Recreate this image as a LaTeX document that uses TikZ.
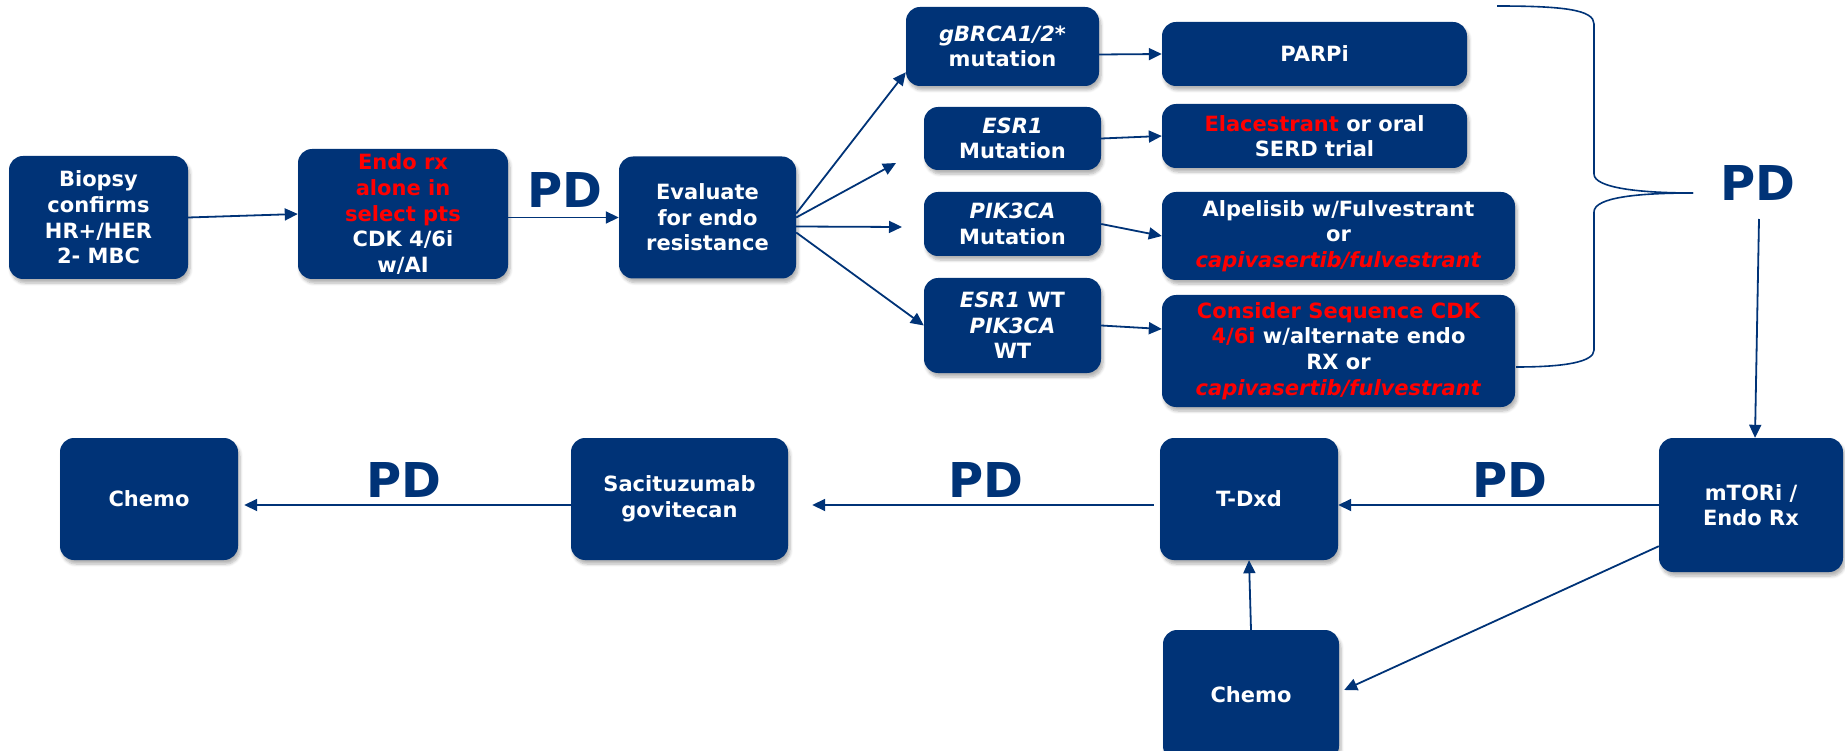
\documentclass[tikz,border=0pt]{standalone}
\usepackage{fontspec}
\setmainfont{DejaVu Sans}
\usetikzlibrary{arrows.meta,shadows.blur,calc}
\definecolor{navy}{RGB}{0,51,119}
\definecolor{hired}{RGB}{255,0,0}
\newcommand{\rd}[1]{\textcolor{hired}{#1}}
\begin{document}
\begin{tikzpicture}[x=1pt,y=-1pt,
  box/.style={fill=navy, rounded corners=14pt, text=white, align=center,
    font=\fontsize{21}{25.6}\selectfont\bfseries, inner sep=0pt,
    blur shadow={shadow xshift=2pt, shadow yshift=-4pt, shadow opacity=30, shadow blur steps=6, shadow blur radius=3pt}},
  arr/.style={draw=navy, line width=1.8pt, -{Triangle[length=13pt,width=12pt]}},
  ln/.style={draw=navy, line width=1.6pt},
  pd/.style={text=navy, font=\fontsize{48}{48}\selectfont\bfseries, inner sep=0pt}]
\useasboundingbox (0,0) rectangle (1845,751);
% top row
\node[box, minimum width=179pt, minimum height=123pt] (bio) at (98.5,217.5) {Biopsy\\confirms\\HR+/HER\\2- MBC};
\node[box, minimum width=210pt, minimum height=130pt] (endo) at (403,214) {\rd{Endo rx}\\\rd{alone in}\\\rd{select pts}\\CDK 4/6i\\w/AI};
\node[pd] (pd1) at (565,190) {PD};
\node[box, minimum width=177pt, minimum height=122pt] (eval) at (707.5,217.5) {Evaluate\\for endo\\resistance};
\node[box, minimum width=193pt, minimum height=79pt] (gbrca) at (1002.5,46.5) {\textit{gBRCA1/2*}\\mutation};
\node[box, minimum width=177pt, minimum height=63pt] (esr1) at (1012.5,138.5) {\textit{ESR1}\\Mutation};
\node[box, minimum width=177pt, minimum height=64pt] (pik) at (1012.5,224) {\textit{PIK3CA}\\Mutation};
\node[box, minimum width=177pt, minimum height=95pt] (wt) at (1012.5,325.5) {\textit{ESR1} WT\\\textit{PIK3CA}\\WT};
\node[box, minimum width=305pt, minimum height=64pt] (parpi) at (1314.5,54) {PARPi};
\node[box, minimum width=305pt, minimum height=64pt] (ela) at (1314.5,136) {\rd{Elacestrant} or oral\\SERD trial};
\node[box, minimum width=353pt, minimum height=88pt] (alp) at (1338.5,236) {Alpelisib w/Fulvestrant\\or\\\rd{\textit{capivasertib/fulvestrant}}};
\node[box, minimum width=353pt, minimum height=112pt] (cons) at (1338.5,351) {\rd{Consider Sequence CDK}\\\rd{4/6i} w/alternate endo\\RX or\\\rd{\textit{capivasertib/fulvestrant}}};
\node[pd] (pdR) at (1758,183) {PD};
% bottom row
\node[box, minimum width=184pt, minimum height=134pt] (mtor) at (1751,505) {mTORi /\\Endo Rx};
\node[box, minimum width=178pt, minimum height=122pt] (tdxd) at (1249,499) {T-Dxd};
\node[box, minimum width=217pt, minimum height=122pt] (sac) at (679.5,499) {Sacituzumab\\govitecan};
\node[box, minimum width=178pt, minimum height=122pt] (chemoL) at (149,499) {Chemo};
\node[box, minimum width=176pt, minimum height=130pt] (chemoB) at (1251,695) {Chemo};
\node[pd] (pd2) at (404,480) {PD};
\node[pd] (pd3) at (986,480) {PD};
\node[pd] (pd4) at (1510,480) {PD};
% free ends
\coordinate (a2) at (896,163);
\coordinate (a3) at (902,227);
\coordinate (pdRs) at (1759,219);
% connectors top
\draw[arr] (bio.east) -- (endo.west);
\draw[arr] (endo.east |- eval.west) -- (eval.west);
\draw[arr] ([yshift=4pt]eval.east) -- ([yshift=14pt]gbrca.south west);
\draw[arr] (eval.east) -- (a2);
\draw[arr] ([yshift=-9pt]eval.east) -- (a3);
\draw[arr] ([yshift=-15pt]eval.east) -- (wt.west);
\draw[arr] ([yshift=-8pt]gbrca.east) -- (parpi.west);
\draw[arr] (esr1.east) -- (ela.west);
\draw[arr] (pik.east) -- (alp.west);
\draw[arr] (wt.east) -- ([yshift=22pt]cons.west);
% brace
\draw[ln] (1497,6) .. controls (1565,6) and (1594,10) .. (1594,24) -- (1594,174)
  .. controls (1594,188) and (1640,193) .. (1693,193);
\draw[ln] (1693,193) .. controls (1640,193) and (1594,197) .. (1594,212) -- (1594,350)
  .. controls (1594,362) and (1565,367) .. (1516,367);
\draw[arr] (pdRs) -- ([xshift=4pt]mtor.north);
% connectors bottom
\draw[arr] (mtor.west) -- (tdxd.east |- mtor.west);
\draw[arr] ([xshift=-6pt]tdxd.west |- mtor.west) -- ([xshift=24pt]sac.east |- mtor.west);
\draw[arr] (sac.west |- mtor.west) -- ([xshift=6pt]chemoL.east |- mtor.west);
\draw[arr] (chemoB.north) -- (tdxd.south);
\draw[arr] ([yshift=26pt]mtor.south west) -- ([xshift=5pt,yshift=5pt]chemoB.east);
\end{tikzpicture}
\end{document}
